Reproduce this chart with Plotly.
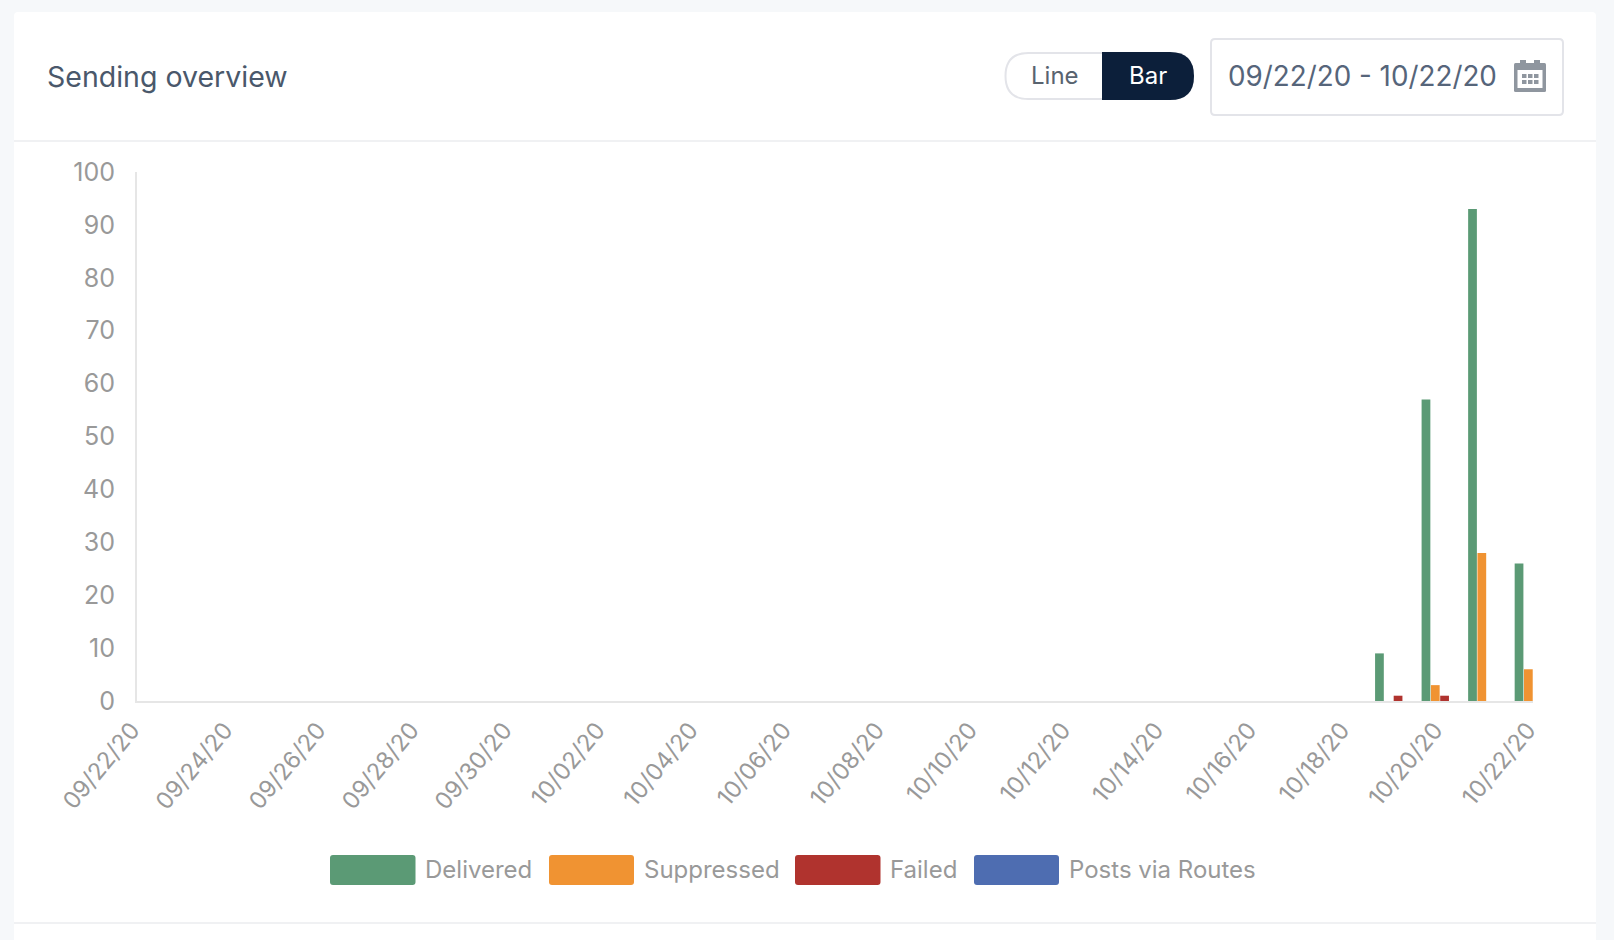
import plotly.graph_objects as go

dates = ["09/22/20","09/23/20","09/24/20","09/25/20","09/26/20","09/27/20","09/28/20","09/29/20","09/30/20",
         "10/01/20","10/02/20","10/03/20","10/04/20","10/05/20","10/06/20","10/07/20","10/08/20","10/09/20",
         "10/10/20","10/11/20","10/12/20","10/13/20","10/14/20","10/15/20","10/16/20","10/17/20","10/18/20",
         "10/19/20","10/20/20","10/21/20","10/22/20"]
tick_labels = dates[::2]
delivered = [0]*27 + [9, 57, 93, 26]
suppressed = [0]*27 + [0, 3, 28, 6]
failed = [0]*27 + [1, 1, 0, 0]
posts_via_routes = [0]*31
y_ticks = [0, 10, 20, 30, 40, 50, 60, 70, 80, 90, 100]

series_names = ["Delivered", "Suppressed", "Failed", "Posts via Routes"]
series_colors = ["#5b9a75", "#f09332", "#b0332e", "#4e6db1"]
series_values = [delivered, suppressed, failed, posts_via_routes]

W, H = 1614, 940
L, R, T, B = 137, 1533, 172, 701
FONT = "Inter"

def px(x): return (x - L) / (R - L)
def py(y): return (B - y) / (B - T)

def rrect(x0, y0, x1, y1, rl, rr=None):
    rr = rl if rr is None else rr
    X0, X1, Y0, Y1 = px(x0), px(x1), py(y0), py(y1)
    def xp(v): return px(v)
    def yp(v): return py(v)
    return (f"M {xp(x0+rl)} {Y0} L {xp(x1-rr)} {Y0} Q {X1} {Y0} {X1} {yp(y0+rr)} "
            f"L {X1} {yp(y1-rr)} Q {X1} {Y1} {xp(x1-rr)} {Y1} L {xp(x0+rl)} {Y1} "
            f"Q {X0} {Y1} {X0} {yp(y1-rl)} L {X0} {yp(y0+rl)} Q {X0} {Y0} {xp(x0+rl)} {Y0} Z")

shapes = []
def add_path(path, fill, line=None, lw=0, layer="below"):
    shapes.append(dict(type="path", xref="paper", yref="paper", path=path, fillcolor=fill,
                       line=dict(color=line or fill, width=lw), layer=layer))
def add_rect(x0, y0, x1, y1, fill, layer="below"):
    shapes.append(dict(type="rect", xref="paper", yref="paper", x0=px(x0), x1=px(x1), y0=py(y0), y1=py(y1),
                       fillcolor=fill, line=dict(width=0), layer=layer))

# card and dividers
add_path(rrect(14, 12, 1596, 960, 4), "#ffffff")
add_rect(14, 140, 1596, 142, "#f0f1f3")
add_rect(14, 922, 1596, 924, "#f0f1f3")

# toggle
add_path(rrect(1005.5, 53, 1193, 99, 23), "#ffffff", "#e3e4e9", 2)
add_path(rrect(1102, 52, 1194, 100, 0.01, 24), "#0c1f3a")
# date box
add_path(rrect(1211, 39, 1563, 115, 4), "#ffffff", "#e3e4e9", 2)
# calendar icon
icon = "#8f969f"
add_path(rrect(1514, 63, 1546, 92, 1.5), icon, layer="above")
add_rect(1520, 60, 1526, 66, icon, "above")
add_rect(1534, 60, 1540, 66, icon, "above")
add_rect(1517.5, 70, 1542.5, 88, "#ffffff", "above")
for gx in (1522, 1528, 1534):
    for gy in (74, 80):
        add_rect(gx, gy, gx + 4.5, gy + 4, icon, "above")

annotations = []
def add_text(x, y, text, size, color, anchor="left", weight=400):
    annotations.append(dict(xref="paper", yref="paper", x=px(x), y=py(y), text=text, showarrow=False,
                            xanchor=anchor, yanchor="middle", borderpad=0,
                            font=dict(family=FONT, size=size, color=color, weight=weight)))

add_text(45.5, 76, "Sending overview", 28.5, "#4a586b")
add_text(1055, 75, "Line", 24, "#59636f", "center")
add_text(1148, 75, "Bar", 24, "#ffffff", "center")
add_text(1227, 76, "09/22/20 - 10/22/20", 27.8, "#56657a")

# legend
swatches = [(330, 415.5), (549, 634), (795, 880.5), (974, 1059)]
label_x = [423.5, 642.5, 889, 1067.5]
for (a, b), lx, name, col in zip(swatches, label_x, series_names, series_colors):
    add_path(rrect(a, 855, b, 885, 3), col)
    add_text(lx, 869.5, name, 24, "#999999")

fig = go.Figure()
for name, vals, col in zip(series_names, series_values, series_colors):
    fig.add_trace(go.Bar(x=dates, y=vals, name=name, marker=dict(color=col, line=dict(width=0))))

fig.update_layout(
    width=W, height=H, autosize=False,
    margin=dict(l=L, r=W - R, t=T, b=H - B, pad=0),
    paper_bgcolor="#f6f8fa", plot_bgcolor="rgba(0,0,0,0)",
    barmode="group", bargap=0.2, bargroupgap=0.06, showlegend=False,
    shapes=shapes, annotations=annotations,
    xaxis=dict(type="category", categoryorder="array", categoryarray=dates, range=[0, 30],
               tickmode="array", tickvals=tick_labels, ticktext=tick_labels, tickangle=-50,
               showgrid=False, zeroline=False, showline=True, linecolor="#e6e6e6", linewidth=2,
               ticks="outside", ticklen=4, tickcolor="rgba(0,0,0,0)", ticklabelshift=-5,
               tickfont=dict(family=FONT, size=23.5, color="#999999")),
    yaxis=dict(range=[0, 100], tickmode="array", tickvals=y_ticks,
               showgrid=False, zeroline=False, showline=True, linecolor="#e6e6e6", linewidth=2,
               ticks="outside", ticklen=15, tickcolor="rgba(0,0,0,0)",
               tickfont=dict(family=FONT, size=25, color="#999999")),
)
fig.write_html("out.html", post_script="document.body.style.margin='0';document.body.style.background='#f6f8fa';",
               config=dict(displayModeBar=False))
